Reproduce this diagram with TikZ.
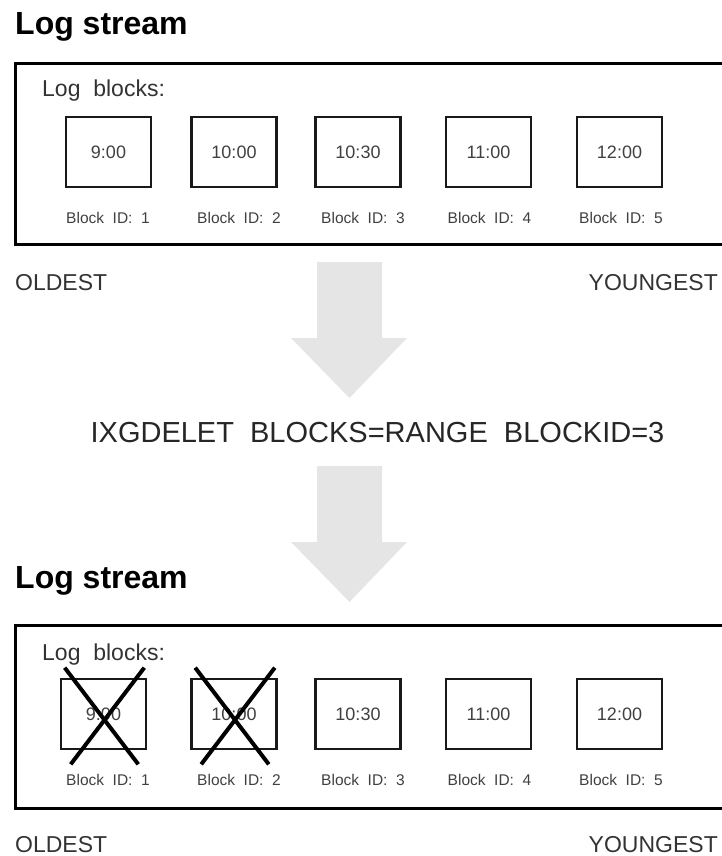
\documentclass[tikz,border=0pt]{standalone}
\usepackage{fontspec}
\setmainfont{Liberation Sans}
\usetikzlibrary{calc,positioning}
\tikzset{
  title/.style={font=\fontsize{32}{36}\selectfont\bfseries, anchor=base west, inner sep=0},
  stream/.style={draw=black, line width=2.6pt, minimum width=760pt, anchor=north west, inner sep=0},
  blk/.style={draw=black!90, line width=2.6pt, minimum width=85pt, minimum height=70pt, inner sep=0, font=\fontsize{18}{20}\selectfont, text=black!75},
  blkid/.style={font=\fontsize{15.5}{18}\selectfont, text=black!75, anchor=base, inner sep=0},
  note/.style={font=\fontsize{23}{26}\selectfont, text=black!80, inner sep=0},
  cmd/.style={font=\fontsize{29}{32}\selectfont, text=black!85, anchor=base, inner sep=0},
  bigarrow/.style={fill=black!10, draw=none},
  cross/.style={line width=4pt, black}
}

\begin{document}
\begin{tikzpicture}[x=1pt,y=-1pt]
  \useasboundingbox (0,0) rectangle (722,856);
  \clip (0,0) rectangle (722,856);
  % before the delete
  \node[title] (title1) at (15,35) {Log stream};
  \node[stream, minimum height=181pt] (stream1) at (14,62) {};
  \node[note, anchor=base west] (lb1) at (42,97) {Log\ \ blocks:};
  \foreach \i/\x/\t/\lx in {1/108.5/9:00/108,2/234/10:00/239,3/358/10:30/363,4/488.5/11:00/489.5,5/619.5/12:00/621}{
    \node[blk] (blk\i) at (\x,152) {\t};
    \node[blkid] (id\i) at (\lx,223) {Block\ \ ID:\ \ \i};
  }
  \node[note, anchor=base west] (old1) at (15,290) {OLDEST};
  \node[note, anchor=base east] (young1) at (718,290) {YOUNGEST};
  % arrows and command
  \foreach \dy in {0,204}{
    \fill[bigarrow, shift={(0,\dy)}] (317,262) -- (382,262) -- (382,338) -- (407,338) -- (349.5,398) -- (291,338) -- (317,338) -- cycle;
  }
  \node[cmd] (cmd) at (377.5,442) {IXGDELET\ \ BLOCKS=RANGE\ \ BLOCKID=3};
  % after the delete
  \node[title] (title2) at (15,588) {Log stream};
  \node[stream, minimum height=183pt] (stream2) at (14,624) {};
  \node[note, anchor=base west] (lb2) at (42,660) {Log\ \ blocks:};
  \foreach \i/\x/\t/\lx in {1/103.5/9:00/108,2/234/10:00/239,3/358/10:30/363,4/488.5/11:00/489.5,5/619.5/12:00/621}{
    \node[blk] (nblk\i) at (\x,714) {\t};
    \node[blkid] (nid\i) at (\lx,785) {Block\ \ ID:\ \ \i};
  }
  \foreach \i in {1,2}{
    \draw[cross] ($(nblk\i.north west)+(5,-10)$) -- ($(nblk\i.south east)+(-9,14)$);
    \draw[cross] ($(nblk\i.north east)+(-3,-10)$) -- ($(nblk\i.south west)+(11,14)$);
  }
  \node[note, anchor=base west] (old2) at (15,852) {OLDEST};
  \node[note, anchor=base east] (young2) at (718,852) {YOUNGEST};
\end{tikzpicture}
\end{document}
